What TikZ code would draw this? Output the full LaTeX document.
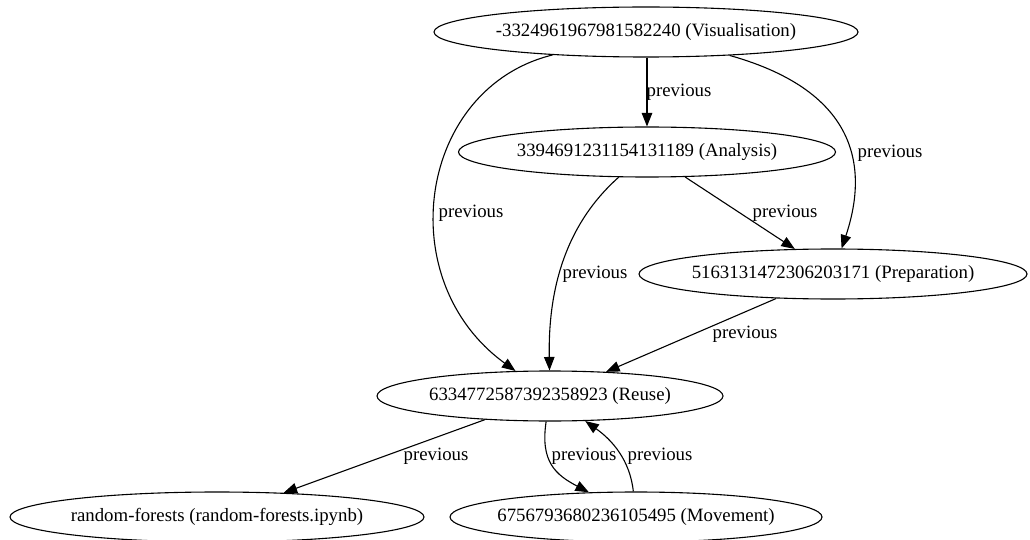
\documentclass[tikz,border=0pt]{standalone}
\usepackage{fontspec}
\setmainfont{Liberation Serif}
\usetikzlibrary{shapes.geometric,arrows.meta}
\begin{document}
\begin{tikzpicture}[x=1pt,y=-1pt,
  every node/.style={font=\fontsize{18.8}{21}\selectfont},
  nd/.style={draw,ellipse,line width=1.1pt,inner xsep=-30pt,inner ysep=0pt},
  lbl/.style={inner sep=0pt},
  edge/.style={line width=1.1pt,-{Triangle[length=13.5pt,width=10.5pt]}}]
\useasboundingbox (0,0) rectangle (1030,540);
\node[nd,minimum width=424pt,minimum height=50pt] (vis) at (646,32) {-3324961967981582240 (Visualisation)};
\node[nd,minimum width=377pt,minimum height=50pt] (ana) at (647,152) {3394691231154131189 (Analysis)};
\node[nd,minimum width=388pt,minimum height=50pt] (prep) at (833,274) {5163131472306203171 (Preparation)};
\node[nd,minimum width=346pt,minimum height=50pt] (reuse) at (550,396) {6334772587392358923 (Reuse)};
\node[nd,minimum width=414pt,minimum height=50pt] (rf) at (217,517) {random-forests (random-forests.ipynb)};
\node[nd,minimum width=372pt,minimum height=50pt] (mov) at (636,517) {6756793680236105495 (Movement)};

\draw[edge] (vis.south -| ana.north) -- (ana);
\draw[edge] (vis) .. controls (418,88) and (390,280) .. (reuse);
\draw[edge] (vis) .. controls (860,92) and (868,170) .. (prep);
\draw[edge] (ana) .. controls (565,225) and (548,290) .. (reuse);
\draw[edge] (ana) -- (prep);
\draw[edge] (prep) -- (reuse);
\draw[edge] (reuse) -- (rf);
\draw[edge] (reuse) .. controls (540,462) and (556,475) .. (mov);
\draw[edge] (mov) .. controls (630,460) and (612,440) .. (reuse);

\node[lbl] (l1) at (679,92) {previous};
\node[lbl] (l2) at (471,213) {previous};
\node[lbl] (l3) at (890,153) {previous};
\node[lbl] (l4) at (595,274) {previous};
\node[lbl] (l5) at (785,213) {previous};
\node[lbl] (l6) at (745,334) {previous};
\node[lbl] (l7) at (436,456) {previous};
\node[lbl] (l8) at (584,456) {previous};
\node[lbl] (l9) at (660,456) {previous};
\end{tikzpicture}
\end{document}
